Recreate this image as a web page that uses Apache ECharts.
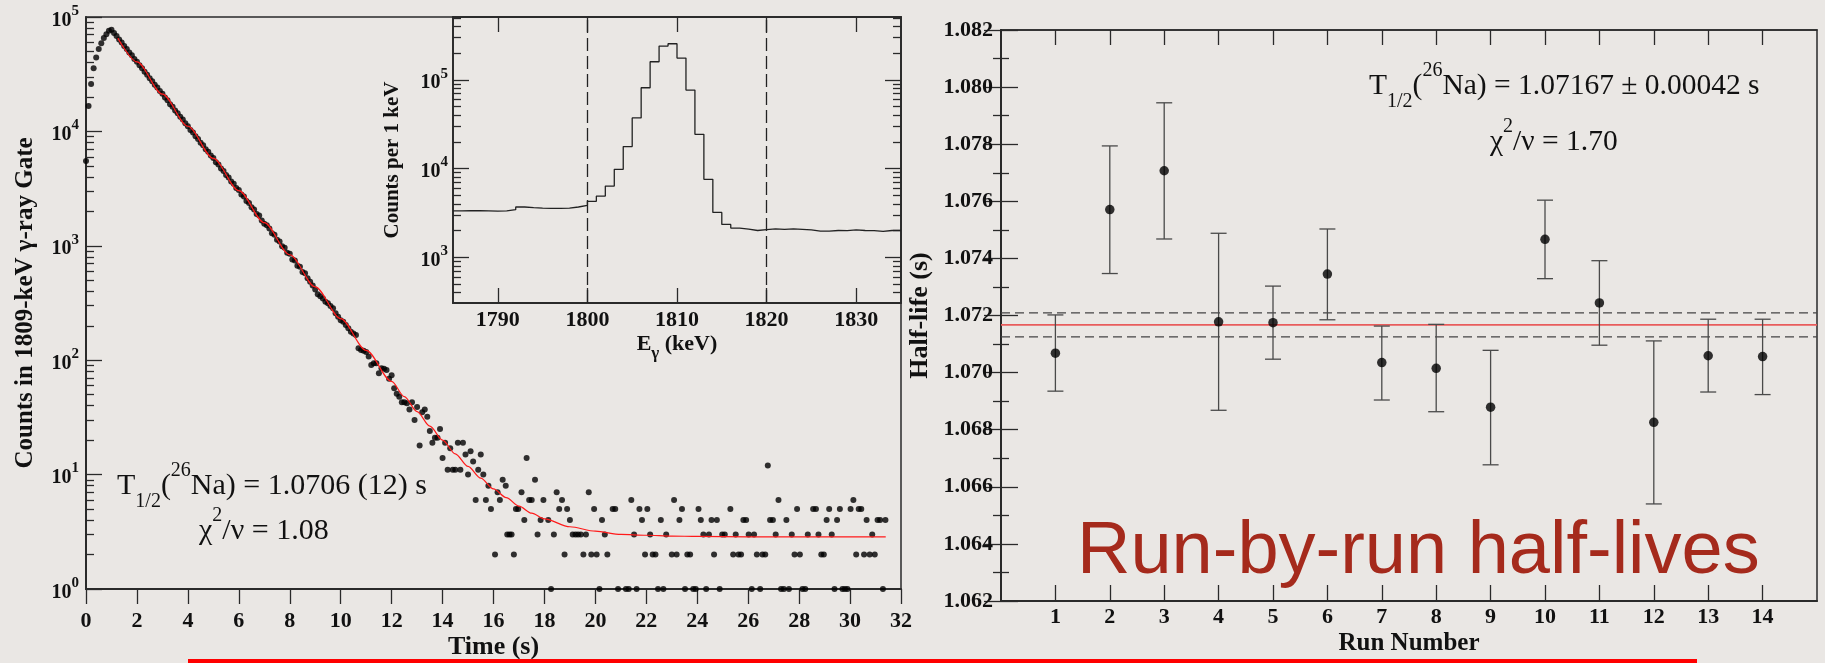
<!DOCTYPE html>
<html><head><meta charset="utf-8">
<script src="https://cdn.jsdelivr.net/npm/echarts@6/dist/echarts.min.js"></script>
<style>html,body{margin:0;padding:0;background:#eae7e4;}#c{width:1825px;height:663px;}</style>
</head><body><div id="c"></div><script>
// ---------- data ----------
// Decay curve: counts per 0.1 s bin starting at t = 0.0 s (0.0 .. 15.9 s)
const decayBinStart = 0.0;
const decayBinWidth = 0.1;
const decayCounts = [5500,16700,26000,35700,44200,52400,59100,65400,70800,75700,
77300,72300,68100,63500,59800,55700,52600,49000,46200,43000,
40600,37800,35700,33200,31300,29100,27500,25600,24200,22500,
21300,19800,18700,17300,16400,15200,14400,13400,12700,11800,
11100,10300,9800,9050,8600,7950,7550,6980,6640,6150,
5850,5380,5140,4730,4500,4150,3960,3650,3480,3200,
3070,2810,2700,2460,2370,2170,2080,1900,1840,1660,
1560,1510,1420,1290,1250,1130,1090,990,960,870,
850,760,745,670,655,590,575,520,485,450,
415,378,362,347,325,314,297,284,257,240,
224,217,203,190,177,171,166,127,123,121,
118,108,91,94,94,77,85,84,82,69,
74,57,51,48,43,43,42,37,43,30,
39,18,35,37,32,24,19,21,21,25,
14,19,11,17,11,11,19,11,19,15,
10,16,13,6,11,15,10,6,8,5];
// Tail (t >= 16 s): non-empty bins only
const tailTimes = [16.06,16.16,16.25,16.36,16.48,16.54,16.63,16.71,16.8,16.88,16.97,17.1,17.21,17.3,17.4,17.5,17.63,17.73,17.85,17.96,
18.15,18.26,18.37,18.48,18.58,18.69,18.79,18.89,19.0,19.11,19.22,19.32,19.43,19.53,19.63,19.74,19.84,19.95,20.05,20.16,
20.26,20.37,20.47,20.68,20.78,20.89,21.2,21.31,21.41,21.52,21.62,21.73,21.83,21.95,22.04,22.15,22.25,22.36,22.46,22.57,
22.67,22.78,23.0,23.09,23.19,23.3,23.4,23.52,23.61,23.72,23.84,23.94,24.05,24.14,24.24,24.35,24.46,24.56,24.66,24.77,
24.88,24.98,25.08,25.3,25.41,25.51,25.62,25.72,25.81,25.92,26.02,26.14,26.23,26.34,26.47,26.56,26.67,26.77,26.86,26.97,
27.08,27.19,27.29,27.4,27.5,27.6,27.71,27.82,27.92,28.03,28.13,28.24,28.34,28.55,28.66,28.76,28.87,28.97,29.08,29.18,
29.28,29.39,29.49,29.6,29.7,29.8,29.9,30.02,30.13,30.24,30.34,30.44,30.55,30.65,30.77,30.87,30.97,31.08,31.18,31.29,31.39];
const tailCounts = [2,7,6,9,8,3,3,3,2,5,5,7,4,14,6,6,9,3,4,6,
4,1,3,7,5,6,2,5,4,3,3,3,3,2,3,7,2,5,2,1,
4,3,2,5,5,1,1,1,6,3,1,5,4,2,5,3,2,2,1,4,
1,3,2,6,2,4,5,1,2,2,1,1,5,4,3,1,3,4,2,4,
1,3,3,5,2,3,2,2,4,4,3,1,3,2,1,2,2,12,4,4,
3,6,1,1,4,1,3,2,5,2,1,1,3,5,5,3,2,2,4,5,
3,1,4,5,1,1,1,5,6,2,5,5,2,4,2,3,2,4,4,1,4];
// Fit curve (red)
const fitTimes  = [1.25,2,3,4,5,6,7,8,9,10,11,12,12.5,13,13.5,14,14.5,15,15.5,16,16.5,17,17.5,18,19,20,21,22,23,24,26,28,31.4];
const fitCounts = [65400,40460,21180,11090,5800,3040,1592,835,438,231,122,65.3,48,35.5,26.5,20.0,15.2,11.8,9.3,7.5,6.3,5.3,4.6,4.1,3.5,3.2,3.0,2.95,2.9,2.88,2.86,2.85,2.85];
// Inset gamma spectrum, 1 keV bins starting at 1785 keV
const insetBinStart = 1785;
const insetBinWidth = 1;
const insetCounts = [3330,3340,3340,3320,3300,3320,3430,3680,3620,3580,
3560,3560,3580,3680,3840,4260,4890,6340,9790,17650,
37200,81300,159700,240000,255000,175800,76500,24300,7550,3200,
2340,2130,2070,2000,2050,2090,2060,2090,2060,2030,
1970,1970,2000,1990,2030,2000,1990,1950,2000,2000];
const gateEdges = [1800, 1820];
const insetXTicks = [1790, 1800, 1810, 1820, 1830];
const insetYDecades = [3, 4, 5];
// Run-by-run half-lives
const runs = [1,2,3,4,5,6,7,8,9,10,11,12,13,14];
const halfLives = [1.07068,1.07571,1.07707,1.07178,1.07175,1.07345,1.07035,1.07015,1.06879,1.07467,1.07244,1.06826,1.07059,1.07056];
const errLow  = [1.06935,1.07347,1.07468,1.06868,1.07047,1.07185,1.06904,1.06863,1.06677,1.07329,1.07096,1.06540,1.06932,1.06923];
const errHigh = [1.07202,1.07794,1.07945,1.07488,1.07303,1.07503,1.07163,1.07169,1.07078,1.07604,1.07392,1.07111,1.07187,1.07187];
const avgHalfLife = 1.07167;
const avgErr = 0.00042;

// ---------- build ----------
const SERIF = '"Liberation Serif","Times New Roman",serif';
const INK = '#111';
const AX = '#2a2a2a';
const lg = Math.log10;

const decayData = decayCounts.map((c, i) => [+(decayBinStart + i * decayBinWidth).toFixed(2), lg(c)])
  .concat(tailTimes.map((t, i) => [t, lg(tailCounts[i])]));
const fitData = fitTimes.map((t, i) => [t, lg(fitCounts[i])]);
const specData = insetCounts.map((c, i) => [insetBinStart + i * insetBinWidth, lg(c)]);
specData.push([insetBinStart + insetCounts.length * insetBinWidth, lg(insetCounts[insetCounts.length - 1])]);

function minorLogTicks(lo, hi) {
  const out = [];
  for (let d = Math.floor(lo); d <= Math.ceil(hi); d++)
    for (let k = 2; k <= 9; k++) { const v = d + lg(k); if (v > lo && v < hi) out.push(v); }
  return out;
}
const mainMin = 0, mainMax = 5;
const insetMin = 2.4836, insetMax = 5.708;
const runMin = 0, runMax = 15;

const supRich = (fs, ss) => ({
  z: {fontSize: fs, lineHeight: 27, fontFamily: SERIF},
  b: {fontSize: fs, lineHeight: fs, verticalAlign: 'bottom', fontFamily: SERIF, fontWeight: 'bold', color: INK},
  s: {fontSize: ss, lineHeight: ss, verticalAlign: 'top', fontFamily: SERIF, fontWeight: 'bold', color: INK}
});
const powFmt = v => '{z| }{b|10}{s|' + Math.round(v) + '}';

const tickStyle = {color: AX, width: 1.3};
const nameStyle = (fs) => ({fontFamily: SERIF, fontWeight: 'bold', fontSize: fs, color: INK, lineHeight: fs});
const lblStyle = (fs, m) => ({fontFamily: SERIF, fontWeight: 'bold', fontSize: fs, color: INK, margin: m, formatter: v => String(v)});

const refLine = (v) => [[runMin, v], [runMax, v]];

const option = {
  backgroundColor: '#eae7e4',
  animation: false,
  grid: [
    {left: 86, top: 17, width: 815, height: 572, show: true, borderColor: AX, borderWidth: 1.5, backgroundColor: 'transparent', outerBoundsMode: 'none'},
    {left: 453, top: 17, width: 448, height: 286, show: true, borderColor: AX, borderWidth: 1.5, backgroundColor: 'transparent', outerBoundsMode: 'none'},
    {left: 1001, top: 30, width: 816, height: 571, show: true, borderColor: AX, borderWidth: 1.5, backgroundColor: 'transparent', outerBoundsMode: 'none'}
  ],
  xAxis: [
    {gridIndex: 0, type: 'value', min: 0, max: 32, interval: 2,
     axisLine: {show: true, lineStyle: {color: AX, width: 2}},
     axisTick: {show: true, inside: false, length: 15, lineStyle: tickStyle},
     axisLabel: lblStyle(22, 21), splitLine: {show: false},
     name: 'Time (s)', nameLocation: 'middle', nameGap: 45, nameTextStyle: nameStyle(26), nameMoveOverlap: false},
    {gridIndex: 1, type: 'value', min: 1785, max: 1835, position: 'bottom',
     axisLine: {show: true, lineStyle: {color: AX, width: 1.8}},
     axisTick: {show: true, inside: true, length: 15, customValues: insetXTicks, lineStyle: tickStyle},
     axisLabel: Object.assign(lblStyle(22, 6), {customValues: insetXTicks}), splitLine: {show: false},
     name: '{e|E}{g|γ}{e| (keV)}', nameLocation: 'middle', nameGap: 23, nameMoveOverlap: false,
     nameTextStyle: {rich: {
       e: {fontFamily: SERIF, fontWeight: 'bold', fontSize: 22, lineHeight: 36, verticalAlign: 'middle', color: INK},
       g: {fontFamily: SERIF, fontWeight: 'bold', fontSize: 17, lineHeight: 17, verticalAlign: 'bottom', color: INK}}}},
    {gridIndex: 1, type: 'value', min: 1785, max: 1835, position: 'top',
     axisLine: {show: true, lineStyle: {color: AX, width: 1.5}},
     axisTick: {show: true, inside: true, length: 15, customValues: insetXTicks, lineStyle: tickStyle},
     axisLabel: {show: false}, splitLine: {show: false}},
    {gridIndex: 2, type: 'value', min: runMin, max: runMax, position: 'bottom',
     axisLine: {show: true, lineStyle: {color: AX, width: 2}},
     axisTick: {show: true, inside: true, length: 16, customValues: runs, lineStyle: tickStyle},
     axisLabel: Object.assign(lblStyle(22, 5), {customValues: runs}), splitLine: {show: false},
     name: 'Run Number', nameLocation: 'middle', nameGap: 30, nameTextStyle: nameStyle(25), nameMoveOverlap: false},
    {gridIndex: 2, type: 'value', min: runMin, max: runMax, position: 'top',
     axisLine: {show: true, lineStyle: {color: AX, width: 1.5}},
     axisTick: {show: true, inside: true, length: 15, customValues: runs, lineStyle: tickStyle},
     axisLabel: {show: false}, splitLine: {show: false}}
  ],
  yAxis: [
    {gridIndex: 0, type: 'value', min: mainMin, max: mainMax, interval: 1, position: 'left',
     axisLine: {show: true, lineStyle: {color: AX, width: 2}},
     axisTick: {show: true, inside: true, length: 16, lineStyle: tickStyle},
     axisLabel: {margin: 7, formatter: powFmt, rich: supRich(20, 15)}, splitLine: {show: false},
     name: 'Counts in 1809-keV γ-ray Gate', nameLocation: 'middle', nameGap: 48, nameTextStyle: nameStyle(25), nameMoveOverlap: false},
    {gridIndex: 0, type: 'value', min: mainMin, max: mainMax, position: 'left',
     axisLine: {show: false}, axisLabel: {show: false}, splitLine: {show: false},
     axisTick: {show: true, inside: true, length: 8, customValues: minorLogTicks(mainMin, mainMax), lineStyle: tickStyle}},
    {gridIndex: 1, type: 'value', min: insetMin, max: insetMax, position: 'left',
     axisLine: {show: true, lineStyle: {color: AX, width: 1.8}},
     axisTick: {show: true, inside: true, length: 16, customValues: insetYDecades, lineStyle: tickStyle},
     axisLabel: {margin: 5, customValues: insetYDecades, formatter: powFmt, rich: supRich(20, 15)}, splitLine: {show: false},
     name: 'Counts per 1 keV', nameLocation: 'middle', nameGap: 50, nameTextStyle: nameStyle(21), nameMoveOverlap: false},
    {gridIndex: 1, type: 'value', min: insetMin, max: insetMax, position: 'left',
     axisLine: {show: false}, axisLabel: {show: false}, splitLine: {show: false},
     axisTick: {show: true, inside: true, length: 8, customValues: minorLogTicks(insetMin, insetMax), lineStyle: tickStyle}},
    {gridIndex: 1, type: 'value', min: insetMin, max: insetMax, position: 'right',
     axisLine: {show: true, lineStyle: {color: AX, width: 1.5}}, axisLabel: {show: false}, splitLine: {show: false},
     axisTick: {show: true, inside: true, length: 16, customValues: insetYDecades, lineStyle: tickStyle}},
    {gridIndex: 1, type: 'value', min: insetMin, max: insetMax, position: 'right',
     axisLine: {show: false}, axisLabel: {show: false}, splitLine: {show: false},
     axisTick: {show: true, inside: true, length: 8, customValues: minorLogTicks(insetMin, insetMax), lineStyle: tickStyle}},
    {gridIndex: 2, type: 'value', min: 1.062, max: 1.082, interval: 0.002, position: 'left',
     axisLine: {show: true, lineStyle: {color: AX, width: 2}},
     axisTick: {show: true, inside: true, length: 17, lineStyle: tickStyle},
     minorTick: {show: true, splitNumber: 2, length: 8, lineStyle: tickStyle},
     axisLabel: Object.assign(lblStyle(22, 8), {formatter: v => v.toFixed(3)}), splitLine: {show: false}, minorSplitLine: {show: false},
     name: 'Half-life (s)', nameLocation: 'middle', nameGap: 68, nameTextStyle: nameStyle(26), nameMoveOverlap: false},
    {gridIndex: 2, type: 'value', min: 1.062, max: 1.082, interval: 0.002, position: 'right',
     axisLine: {show: true, lineStyle: {color: AX, width: 1.5}},
     axisTick: {show: true, inside: true, length: 17, lineStyle: tickStyle},
     minorTick: {show: true, splitNumber: 2, length: 8, lineStyle: tickStyle},
     axisLabel: {show: false}, splitLine: {show: false}, minorSplitLine: {show: false}}
  ],
  series: [
    {type: 'scatter', xAxisIndex: 0, yAxisIndex: 0, data: decayData, symbol: 'circle', symbolSize: 6,
     itemStyle: {color: '#000'}, z: 3, silent: true},
    {type: 'line', xAxisIndex: 0, yAxisIndex: 0, data: fitData, showSymbol: false, smooth: 0.3, smoothMonotone: 'x',
     lineStyle: {color: '#ff1a1a', width: 1.2}, z: 4, silent: true},
    {type: 'line', xAxisIndex: 1, yAxisIndex: 2, data: specData, step: 'end', showSymbol: false,
     lineStyle: {color: '#222', width: 1.3}, z: 4, silent: true,
     markLine: {silent: true, symbol: ['none', 'none'], label: {show: false},
       lineStyle: {color: '#222', width: 1.3, type: [13, 5]},
       data: gateEdges.map(e => ({xAxis: e}))}},
    // average half-life (red) and its +-1 sigma band (dashed)
    {type: 'line', xAxisIndex: 3, yAxisIndex: 6, data: refLine(avgHalfLife), showSymbol: false, silent: true, z: 2,
     lineStyle: {color: '#e85c5c', width: 1.6, type: 'solid'}},
    {type: 'line', xAxisIndex: 3, yAxisIndex: 6, data: refLine(avgHalfLife + avgErr), showSymbol: false, silent: true, z: 2,
     lineStyle: {color: '#444', width: 1.3, type: [9, 5]}},
    {type: 'line', xAxisIndex: 3, yAxisIndex: 6, data: refLine(avgHalfLife - avgErr), showSymbol: false, silent: true, z: 2,
     lineStyle: {color: '#444', width: 1.3, type: [9, 5]}},
    {type: 'custom', xAxisIndex: 3, yAxisIndex: 6, silent: true, z: 3,
     data: runs.map((r, i) => [r, errLow[i], errHigh[i]]),
     encode: {x: 0, y: [1, 2]},
     renderItem: (params, api) => {
       const x = api.value(0);
       const lo = api.coord([x, api.value(1)]);
       const hi = api.coord([x, api.value(2)]);
       const hw = 8;
       const st = {stroke: '#4a4a4a', lineWidth: 1.3};
       return {type: 'group', children: [
         {type: 'line', shape: {x1: lo[0], y1: lo[1], x2: hi[0], y2: hi[1]}, style: st},
         {type: 'line', shape: {x1: lo[0] - hw, y1: lo[1], x2: lo[0] + hw, y2: lo[1]}, style: st},
         {type: 'line', shape: {x1: hi[0] - hw, y1: hi[1], x2: hi[0] + hw, y2: hi[1]}, style: st}
       ]};
     }},
    {type: 'scatter', xAxisIndex: 3, yAxisIndex: 6, data: runs.map((r, i) => [r, halfLives[i]]),
     symbol: 'circle', symbolSize: 9.5, itemStyle: {color: '#000'}, z: 5, silent: true}
  ],
  graphic: []
};

function annot(x, y, size, text) {
  const L = Math.round(size * 1.714);
  const ss = Math.round(size * 0.68);
  return {type: 'text', x: x, y: y, z: 50, silent: true, style: {
    text: text, fill: INK, align: 'left', verticalAlign: 'top',
    rich: {
      m: {fontSize: size, lineHeight: L, verticalAlign: 'middle', fontFamily: SERIF, fill: INK},
      sup: {fontSize: ss, lineHeight: ss, verticalAlign: 'top', fontFamily: SERIF, fill: INK},
      sub: {fontSize: ss, lineHeight: ss, verticalAlign: 'bottom', fontFamily: SERIF, fill: INK}
    }}};
}
option.graphic = [
  annot(117, 461, 30, '{m|T}{sub|1/2}{m|(}{sup|26}{m|Na) = 1.0706 (12) s}'),
  annot(199, 506, 30, '{m|χ}{sup|2}{m|/ν = 1.08}'),
  annot(1369, 61, 29.5, '{m|T}{sub|1/2}{m|(}{sup|26}{m|Na) = 1.07167 ± 0.00042 s}'),
  annot(1490, 117, 29.5, '{m|χ}{sup|2}{m|/ν = 1.70}'),
  {type: 'text', x: 1077, y: 553, z: 60, silent: true, style: {
    text: 'Run-by-run half-lives', fill: '#a52a1c', align: 'left', verticalAlign: 'middle',
    fontFamily: '"Liberation Sans",Arial,sans-serif', fontSize: 74}},
  {type: 'rect', x: 188, y: 659, z: 60, silent: true, shape: {width: 1509, height: 4}, style: {fill: '#ff0000'}}
];

const chart = echarts.init(document.getElementById('c'), null, {renderer: 'canvas'});
chart.setOption(option);
</script></body></html>
